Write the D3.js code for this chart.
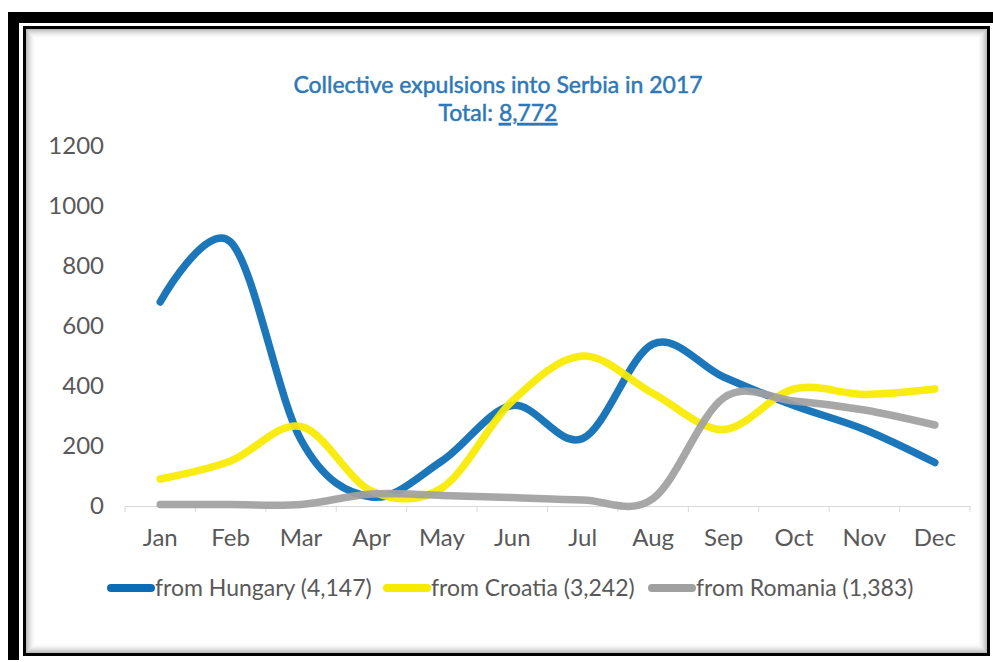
<!DOCTYPE html>
<html>
<head>
<meta charset="utf-8">
<script src="https://cdn.jsdelivr.net/npm/d3@7/dist/d3.min.js"></script>
<style>
  html, body { margin: 0; padding: 0; background: #fff; }
  svg { display: block; font-family: Lato, "Open Sans", sans-serif; }
</style>
</head>
<body>
<svg id="chart" width="993" height="662"></svg>
<script>
(function() {
  'use strict';

  var
    months = ['Jan', 'Feb', 'Mar', 'Apr', 'May', 'Jun', 'Jul', 'Aug', 'Sep', 'Oct', 'Nov', 'Dec'],

    hungary = [680, 880, 220, 30, 150, 335, 225, 540, 430, 335, 255, 145],
    croatia = [90, 150, 265, 50, 60, 350, 500, 375, 255, 390, 372, 390],
    romania = [5, 5, 5, 40, 35, 28, 20, 25, 360, 350, 320, 270],

    seriesNames = ['from Hungary (4,147)', 'from Croatia (3,242)', 'from Romania (1,383)'],
    yTicks = [0, 200, 400, 600, 800, 1000, 1200],

    COLORS = ['#0b6db5', '#f7eb00', '#a0a0a0'],
    TEXT_GREY = '#595959',
    W = 993,
    H = 662;

  var svg = d3.select('#chart');

  // frame: thick black L on top/left, thin inner box with a soft inner shadow
  svg.append('rect').attr('x', 0).attr('y', 0).attr('width', W).attr('height', H).attr('fill', '#fff');
  svg.append('rect').attr('x', 8).attr('y', 12).attr('width', W - 8).attr('height', 11).attr('fill', '#000');
  svg.append('rect').attr('x', 8).attr('y', 12).attr('width', 11).attr('height', 648).attr('fill', '#000');

  d3.range(1, 12).forEach(function(i) {
    svg.append('rect')
      .attr('x', 24.5 + i).attr('y', 27.5 + i)
      .attr('width', 964 - 2 * i).attr('height', 627 - 2 * i)
      .attr('fill', 'none')
      .attr('stroke', '#000')
      .attr('stroke-opacity', 0.38 * Math.pow(1 - i / 12, 2));
  });
  svg.append('rect')
    .attr('x', 24.5).attr('y', 27.5).attr('width', 964).attr('height', 627)
    .attr('fill', 'none').attr('stroke', '#000').attr('stroke-width', 3);

  // scales
  var x = d3.scaleBand().domain(months).range([125, 970]).paddingInner(0).paddingOuter(0);
  var y = d3.scaleLinear().domain([0, 1200]).range([506, 146]);
  var cx = function(m) { return x(m) + x.bandwidth() / 2; };

  // title
  var title = svg.append('g')
    .attr('fill', '#2f78b7').attr('stroke', '#2f78b7').attr('stroke-width', 0.5)
    .attr('font-size', 23).attr('text-anchor', 'middle');
  title.append('text').attr('x', 498).attr('y', 93).text('Collective expulsions into Serbia in 2017');
  var t2 = title.append('text').attr('x', 498).attr('y', 121);
  t2.append('tspan').text('Total: ');
  t2.append('tspan').attr('text-decoration', 'underline').text('8,772');

  // x axis
  var xAxis = svg.append('g').attr('transform', 'translate(0,506)')
    .call(d3.axisBottom(x).tickSize(0).tickPadding(23));
  xAxis.select('.domain').attr('stroke', '#d9d9d9').attr('stroke-width', 1);
  xAxis.selectAll('text').attr('font-family', 'Lato, sans-serif').attr('font-size', 24).attr('fill', TEXT_GREY);

  svg.append('g').selectAll('line')
    .data(months.concat(['end']))
    .enter().append('line')
    .attr('x1', function(d, i) { return i < months.length ? x(d) : x.range()[1]; })
    .attr('x2', function(d, i) { return i < months.length ? x(d) : x.range()[1]; })
    .attr('y1', 506).attr('y2', 512)
    .attr('stroke', '#d9d9d9');

  // y axis labels only
  var yAxis = svg.append('g').attr('transform', 'translate(104,0)')
    .call(d3.axisLeft(y).tickValues(yTicks).tickSize(0).tickPadding(0).tickFormat(d3.format('d')));
  yAxis.select('.domain').remove();
  yAxis.selectAll('text').attr('font-family', 'Lato, sans-serif').attr('font-size', 24).attr('fill', TEXT_GREY);

  // lines
  var line = d3.line()
    .x(function(d) { return cx(d.m); })
    .y(function(d) { return y(d.v); })
    .curve(d3.curveCardinal.tension(0));

  [hungary, croatia, romania].forEach(function(values, i) {
    var pts = values.map(function(v, j) { return {m: months[j], v: v}; });
    svg.append('path')
      .datum(pts)
      .attr('d', line)
      .attr('fill', 'none')
      .attr('stroke', COLORS[i])
      .attr('stroke-width', 7.5)
      .attr('stroke-linecap', 'round')
      .attr('stroke-linejoin', 'round')
      .attr('opacity', 0.93);
  });

  // legend
  var legendX = [107, 383, 648];
  var legend = svg.append('g').attr('font-size', 23).attr('fill', TEXT_GREY);
  seriesNames.forEach(function(name, i) {
    legend.append('line')
      .attr('x1', legendX[i] + 4).attr('x2', legendX[i] + 44)
      .attr('y1', 588).attr('y2', 588)
      .attr('stroke', COLORS[i]).attr('stroke-width', 8).attr('stroke-linecap', 'round');
    legend.append('text')
      .attr('x', legendX[i] + 48).attr('y', 596)
      .text(name);
  });
})();
</script>
</body>
</html>
